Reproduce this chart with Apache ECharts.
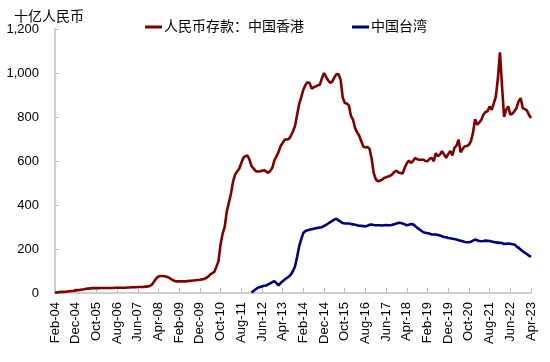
<!DOCTYPE html>
<html>
<head>
<meta charset="utf-8">
<script src="https://cdn.jsdelivr.net/npm/echarts@6/dist/echarts.min.js"></script>
<style>html,body{margin:0;padding:0;background:#fff;}#c{width:550px;height:362px;}</style>
</head>
<body>
<div id="c"></div>
<script>
// Monthly, Feb-04 .. Apr-23
var startYear = 2004, startMonth = 1; // Feb (0-based)
var monthNames = ['Jan','Feb','Mar','Apr','May','Jun','Jul','Aug','Sep','Oct','Nov','Dec'];

var yTicks = [0, 200, 400, 600, 800, 1000, 1200];
var seriesNames = ['人民币存款：中国香港', '中国台湾'];

// 中国香港 (bn RMB)
var hk2004 = [1, 3, 4, 5, 5, 6, 7, 8, 9, 10, 12];
var hk2005 = [13, 14, 16, 17, 19, 20, 21, 22, 22, 22, 22, 23];
var hk2006 = [23, 23, 23, 23, 23, 23, 24, 24, 24, 24, 24, 24];
var hk2007 = [25, 25, 26, 26, 26, 27, 27, 27, 28, 29, 30, 33];
var hk2008 = [40, 54, 67, 75, 77, 77, 76, 74, 70, 64, 58, 54];
var hk2009 = [53, 53, 53, 53, 53, 54, 55, 56, 57, 58, 59, 60];
var hk2010 = [62, 64, 68, 74, 84, 90, 96, 120, 145, 220, 270, 300];
var hk2011 = [370, 410, 450, 505, 538, 552, 565, 590, 615, 622, 625, 605];
var hk2012 = [576, 565, 554, 552, 553, 556, 558, 553, 546, 555, 569, 603];
var hk2013 = [621, 640, 668, 682, 697, 698, 700, 715, 735, 760, 810, 860];
var hk2014 = [890, 924, 945, 958, 955, 929, 935, 939, 944, 947, 977, 1000];
var hk2015 = [982, 966, 955, 962, 980, 995, 994, 970, 890, 864, 861, 852];
var hk2016 = [805, 788, 750, 730, 715, 690, 665, 662, 664, 655, 610, 545];
var hk2017 = [517, 508, 510, 515, 523, 526, 530, 533, 540, 550, 556, 548];
var hk2018 = [545, 543, 570, 590, 602, 591, 600, 614, 608, 606, 606, 606];
var hk2019 = [600, 599, 610, 614, 599, 636, 621, 630, 644, 630, 614, 632];
var hk2020 = [645, 625, 660, 670, 697, 640, 655, 667, 668, 674, 690, 730];
var hk2021 = [790, 765, 775, 788, 810, 823, 826, 848, 833, 862, 892, 975];
var hk2022 = [1094, 940, 800, 833, 848, 811, 815, 826, 841, 871, 886, 841];
var hk2023 = [836, 830, 810, 795];

// 中国台湾 (bn RMB), starts Jan-12
var tw2012 = [2, 10, 17, 24, 27, 30, 33, 34, 39, 44, 49, 54];
var tw2013 = [45, 34, 45, 53, 61, 68, 75, 84, 100, 122, 165, 213];
var tw2014 = [245, 273, 282, 285, 288, 290, 292, 294, 296, 298, 299, 305];
var tw2015 = [310, 316, 322, 328, 334, 337, 330, 324, 318, 316, 316, 316];
var tw2016 = [314, 312, 310, 308, 306, 305, 304, 303, 306, 310, 311, 309];
var tw2017 = [308, 308, 308, 307, 308, 309, 308, 308, 310, 313, 316, 319];
var tw2018 = [318, 316, 312, 308, 310, 314, 312, 305, 296, 290, 283, 276];
var tw2019 = [274, 272, 270, 266, 266, 266, 264, 262, 258, 255, 253, 250];
var tw2020 = [249, 247, 245, 243, 240, 238, 235, 232, 231, 231, 233, 238];
var tw2021 = [243, 240, 236, 235, 236, 238, 237, 236, 234, 232, 230, 229];
var tw2022 = [228, 227, 223, 224, 225, 224, 222, 220, 212, 205, 198, 190];
var tw2023 = [183, 177, 170, 164];

var hk = [].concat(hk2004, hk2005, hk2006, hk2007, hk2008, hk2009, hk2010, hk2011,
  hk2012, hk2013, hk2014, hk2015, hk2016, hk2017, hk2018, hk2019, hk2020, hk2021, hk2022, hk2023);
var twLeadNulls = 95; // Feb-04 .. Dec-11 have no data
var tw = [];
for (var k = 0; k < twLeadNulls; k++) tw.push(null);
tw = tw.concat(tw2012, tw2013, tw2014, tw2015, tw2016, tw2017, tw2018, tw2019, tw2020, tw2021, tw2022, tw2023);

var categories = [];
for (var i = 0; i < hk.length; i++) {
  var m = startMonth + i;
  var y = startYear + Math.floor(m / 12);
  categories.push(monthNames[m % 12] + '-' + String(y % 100).padStart(2, '0'));
}

var chart = echarts.init(document.getElementById('c'), null, {renderer: 'canvas'});
var font = 'Arial, "Liberation Sans", "Noto Sans CJK SC", sans-serif';
chart.setOption({
  animation: false,
  backgroundColor: '#fff',
  title: {
    text: '十亿人民币', left: 9, top: 5,
    textStyle: {fontSize: 14, fontWeight: 'normal', color: '#000', fontFamily: font}
  },
  legend: {
    left: 140, top: 15, itemGap: 48, itemWidth: 17, itemHeight: 3,
    icon: 'rect',
    textStyle: {fontSize: 14, color: '#000', fontFamily: font, padding: [0, 0, 0, -3]},
    data: seriesNames
  },
  grid: {left: 55, right: 19, top: 29, bottom: 69, containLabel: false},
  xAxis: {
    type: 'category', data: categories, boundaryGap: false,
    axisLine: {lineStyle: {color: '#bfbfbf', width: 1.5}},
    axisTick: {inside: true, length: 5, interval: 9, lineStyle: {color: '#bfbfbf'}},
    axisLabel: {interval: 9, rotate: 90, margin: 9, fontSize: 13, color: '#000', fontFamily: font},
    splitLine: {show: false}
  },
  yAxis: {
    type: 'value', min: yTicks[0], max: yTicks[yTicks.length - 1], interval: 200,
    axisLine: {show: true, lineStyle: {color: '#bfbfbf', width: 1.5}},
    axisTick: {show: true, inside: true, length: 4, lineStyle: {color: '#bfbfbf'}},
    axisLabel: {margin: 16, fontSize: 13, color: '#000', fontFamily: font,
      formatter: function (v) { return v.toLocaleString('en-US'); }},
    splitLine: {show: false}
  },
  series: [
    {name: seriesNames[0], type: 'line', data: hk, showSymbol: false, symbol: 'none',
      lineStyle: {color: '#800000', width: 2.6}, itemStyle: {color: '#800000'}},
    {name: seriesNames[1], type: 'line', data: tw, showSymbol: false, symbol: 'none',
      lineStyle: {color: '#000080', width: 2.6}, itemStyle: {color: '#000080'}}
  ]
});
</script>
</body>
</html>
